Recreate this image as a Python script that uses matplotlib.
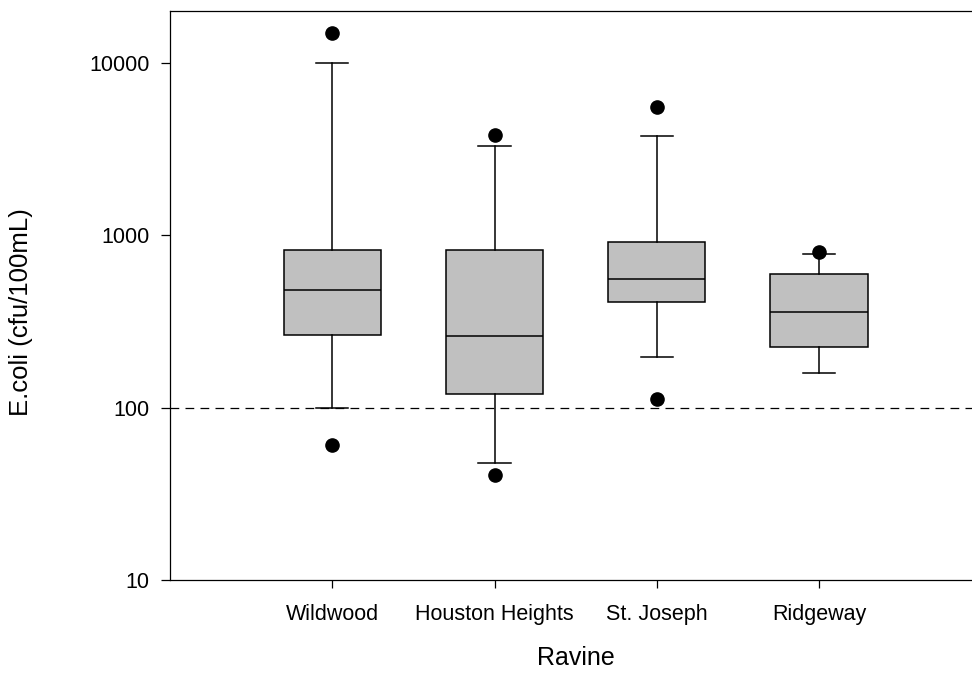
import matplotlib.pyplot as plt

plt.rcParams['font.family'] = ['Liberation Sans', 'DejaVu Sans']

# Data
ravines = ["Wildwood", "Houston Heights", "St. Joseph", "Ridgeway"]
whisker_low = [100, 48, 197, 159]
q1 = [263, 120, 409, 224]
median = [480, 260, 556, 359]
q3 = [818, 818, 914, 594]
whisker_high = [10000, 3310, 3770, 776]
outliers = [[15000, 61], [3840, 40.6], [5550, 111.5], [796]]
threshold = 100

stats = []
for i, name in enumerate(ravines):
    stats.append({
        'label': name,
        'whislo': whisker_low[i],
        'q1': q1[i],
        'med': median[i],
        'q3': q3[i],
        'whishi': whisker_high[i],
        'fliers': outliers[i],
    })

fig = plt.figure(figsize=(9.72, 6.73), dpi=100)
ax = fig.add_axes([0.1749, 0.1382, 0.8347, 0.8455])

line_kw = dict(color='black', linewidth=1.1)
ax.bxp(stats, positions=[1, 2, 3, 4], widths=0.6, capwidths=0.2,
       patch_artist=True,
       boxprops=dict(facecolor='#c0c0c0', edgecolor='black', linewidth=1.1),
       medianprops=line_kw, whiskerprops=line_kw, capprops=line_kw,
       flierprops=dict(marker='o', markerfacecolor='black',
                       markeredgecolor='black', markersize=9.5))

# reference line at 100
ax.axhline(threshold, color='black', linewidth=0.9, linestyle=(0, (7, 5)), zorder=0)

ax.set_yscale('log')
ax.set_ylim(10, 20000)
ax.set_xlim(0, 5)
ax.set_yticks([10, 100, 1000, 10000])
ax.set_yticklabels(['10', '100', '1000', '10000'])
ax.minorticks_off()
ax.set_xticks([1, 2, 3, 4])
ax.set_xticklabels(ravines)

ax.spines['right'].set_visible(False)
for s in ['left', 'top', 'bottom']:
    ax.spines[s].set_linewidth(0.9)

ax.tick_params(axis='y', direction='out', length=6.5, width=0.9, pad=8, labelsize=15.5)
ax.tick_params(axis='x', direction='out', length=6, width=0.9, pad=11, labelsize=15.5)

ax.set_xlabel('Ravine', fontsize=18)
ax.set_ylabel('E.coli (cfu/100mL)', fontsize=18.5)
ax.xaxis.set_label_coords(0.5, -0.116)
ax.yaxis.set_label_coords(-0.169, 0.471)

plt.savefig('out.png', dpi=100)
